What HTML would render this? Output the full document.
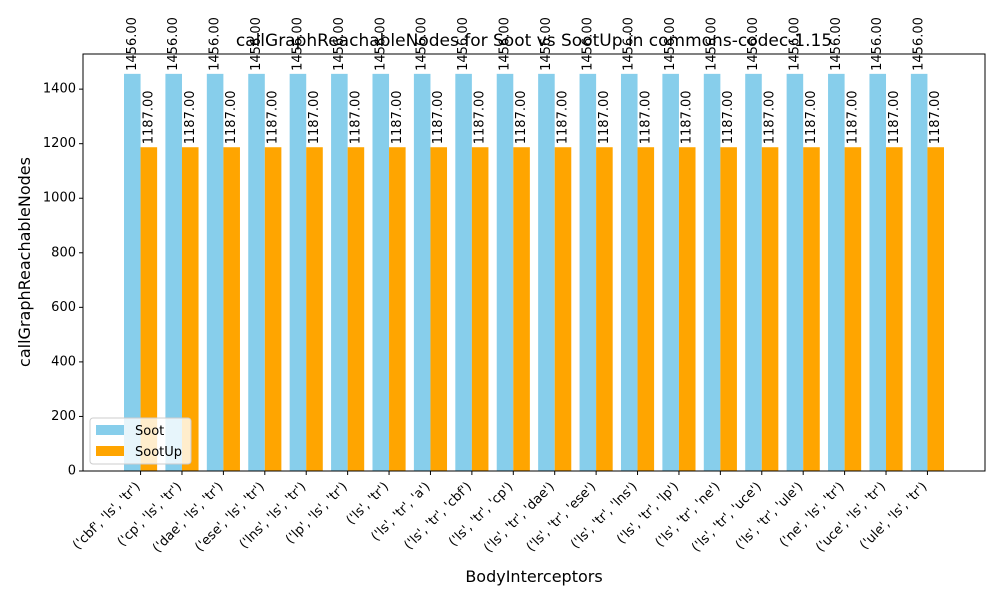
<!DOCTYPE html>
<html><head><meta charset="utf-8"><style>
body{margin:0;background:#fff;}
svg{font-family:"DejaVu Sans","Liberation Sans",sans-serif;}
</style></head><body>
<svg id="chart" width="1000" height="600"></svg>
<script>
const categories=["('cbf', 'ls', 'tr')","('cp', 'ls', 'tr')","('dae', 'ls', 'tr')","('ese', 'ls', 'tr')","('lns', 'ls', 'tr')","('lp', 'ls', 'tr')","('ls', 'tr')","('ls', 'tr', 'a')","('ls', 'tr', 'cbf')","('ls', 'tr', 'cp')","('ls', 'tr', 'dae')","('ls', 'tr', 'ese')","('ls', 'tr', 'lns')","('ls', 'tr', 'lp')","('ls', 'tr', 'ne')","('ls', 'tr', 'uce')","('ls', 'tr', 'ule')","('ne', 'ls', 'tr')","('uce', 'ls', 'tr')","('ule', 'ls', 'tr')"];
const sootValues=[1456,1456,1456,1456,1456,1456,1456,1456,1456,1456,1456,1456,1456,1456,1456,1456,1456,1456,1456,1456];
const sootUpValues=[1187,1187,1187,1187,1187,1187,1187,1187,1187,1187,1187,1187,1187,1187,1187,1187,1187,1187,1187,1187];
const yTicks=[0,200,400,600,800,1000,1200,1400];

const svg=document.getElementById('chart');
const NS='http://www.w3.org/2000/svg';
const L=83,R=985,T=54,B=471;
const n=categories.length;
const maxV=Math.max(...sootValues,...sootUpValues)*1.05;
const xmin=-0.4-(n-1+0.8)*0.05, xmax=n-1+0.4+(n-1+0.8)*0.05;
const xs=v=>L+(v-xmin)/(xmax-xmin)*(R-L);
const ys=v=>B-v/maxV*(B-T);
function el(tag,attrs,parent){const e=document.createElementNS(NS,tag);for(const k in attrs)e.setAttribute(k,attrs[k]);(parent||svg).appendChild(e);return e;}

const bars=el('g',{});


for(let i=0;i<n;i++){
  [[sootValues[i],-0.4,'#87ceeb','soot'],[sootUpValues[i],0,'#ffa500','sootup']].forEach(([v,off,c,nm])=>{
    const x0=xs(i+off),x1=xs(i+off+0.4);
    const r=el('rect',{x:x0,y:ys(v),width:x1-x0,height:B-ys(v),fill:c},bars);
    
    
    const cx=(x0+x1)/2, ty=ys(v)-3;
    const t=el('text',{x:cx,y:ty,transform:`rotate(-90 ${cx} ${ty})`,'font-size':'13','dominant-baseline':'central','text-anchor':'start'},svg);
    t.textContent=v.toFixed(2);
    
    
  });
}
const frame=el('rect',{x:L,y:T,width:R-L,height:B-T,fill:'none',stroke:'#000','stroke-width':1});


yTicks.forEach(v=>{
  const y=ys(v);
  el('line',{x1:L-4,x2:L,y1:y,y2:y,stroke:'#000'});
  const t=el('text',{x:L-7,y:y,'font-size':'13','text-anchor':'end','dominant-baseline':'central'});
  t.textContent=v;
  
  
});
categories.forEach((c,i)=>{
  const x=xs(i);
  el('line',{x1:x,x2:x,y1:B,y2:B+4,stroke:'#000'});
  const ty=B+10;
  const tx=x-6;
  const t=el('text',{x:tx,y:ty,'font-size':'13','text-anchor':'end','dominant-baseline':'hanging',transform:`rotate(-45 ${tx} ${ty})`});
  t.textContent=c;
  
  
});
</script>
<svg style="position:absolute;left:0;top:0" width="1000" height="600">
<text x="534" y="46" font-size="17" text-anchor="middle" font-family="DejaVu Sans, Liberation Sans, sans-serif">callGraphReachableNodes for Soot vs SootUp in commons-codec-1.15</text>
<text x="534" y="582" font-size="16" text-anchor="middle" font-family="DejaVu Sans, Liberation Sans, sans-serif">BodyInterceptors</text>
<text x="30" y="262" font-size="16" text-anchor="middle" transform="rotate(-90 30 262)" font-family="DejaVu Sans, Liberation Sans, sans-serif">callGraphReachableNodes</text>
<g>
<rect x="90" y="418" width="101" height="46" fill="#fff" fill-opacity="0.8" stroke="#ccc" rx="3"/>
<rect x="96" y="425" width="28" height="10" fill="#87ceeb"/>
<text x="135" y="435" font-size="13" font-family="DejaVu Sans, Liberation Sans, sans-serif">Soot</text>
<rect x="96" y="446" width="28" height="10" fill="#ffa500"/>
<text x="135" y="456" font-size="13" font-family="DejaVu Sans, Liberation Sans, sans-serif">SootUp</text>
</g>
</svg>
</body></html>
